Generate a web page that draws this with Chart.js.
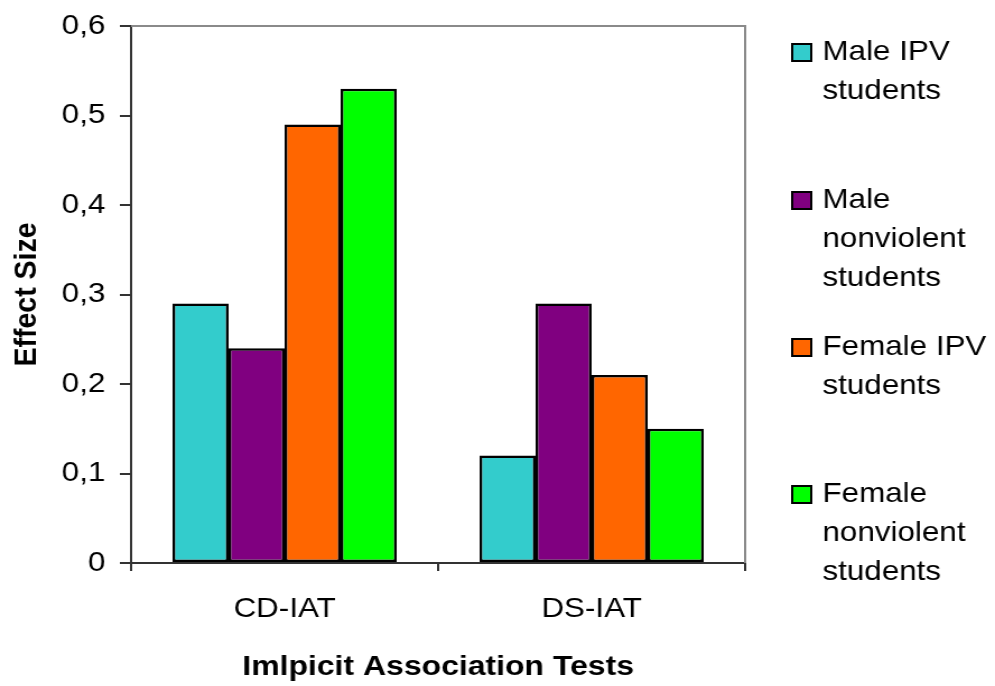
<!DOCTYPE html>
<html>
<head>
<meta charset="utf-8">
<title>Effect Size by Implicit Association Test</title>
<script src="https://cdn.jsdelivr.net/npm/chart.js@4.4.1/dist/chart.umd.min.js"></script>
<style>
  html, body { margin: 0; padding: 0; background: #ffffff; }
  #chart { display: block; width: 995px; height: 686px; }
</style>
</head>
<body>
<canvas id="chart" width="888" height="686" style="width:995px;height:686px"></canvas>
<script>
// Test categories on the x axis
const categories = ['CD-IAT', 'DS-IAT'];

// Effect sizes per group
const maleIPV = [0.29, 0.12];
const maleNonviolent = [0.24, 0.29];
const femaleIPV = [0.49, 0.21];
const femaleNonviolent = [0.53, 0.15];

// Group names and their wrapped legend lines
const seriesNames = ['Male IPV students', 'Male nonviolent students', 'Female IPV students', 'Female nonviolent students'];
const legendLines = [
  ['Male IPV', 'students'],
  ['Male', 'nonviolent', 'students'],
  ['Female IPV', 'students'],
  ['Female', 'nonviolent', 'students']
];
const seriesColors = ['#33CCCC', '#800080', '#FF6600', '#00FF00'];

// Y axis range and step
const yMin = 0;
const yMax = 0.6;
const yStep = 0.1;

const FONT = '"Liberation Sans", Arial, sans-serif';

// Grey frame on the top and right of the plot area
const frameLines = {
  id: 'frameLines',
  afterDatasetsDraw(chart) {
    const { ctx, chartArea: a } = chart;
    ctx.save();
    ctx.strokeStyle = '#8a8a8a';
    ctx.lineWidth = 2;
    ctx.beginPath();
    ctx.moveTo(a.left, a.top);
    ctx.lineTo(a.right, a.top);
    ctx.lineTo(a.right, a.bottom);
    ctx.stroke();
    ctx.restore();
  }
};

// Legend at the right with wrapped labels
const sideLegend = {
  id: 'sideLegend',
  afterDraw(chart) {
    const { ctx } = chart;
    const boxX = 707, box = 17, textX = 734;
    const firstBaselines = [60, 208, 355, 502];
    const lineStep = 39;
    ctx.save();
    ctx.font = '28px ' + FONT;
    ctx.textBaseline = 'alphabetic';
    ctx.textAlign = 'left';
    chart.data.datasets.forEach((ds, i) => {
      const base = firstBaselines[i];
      ctx.fillStyle = ds.backgroundColor;
      ctx.fillRect(boxX, base - 16, box, box);
      ctx.strokeStyle = '#000000';
      ctx.lineWidth = 2;
      ctx.strokeRect(boxX, base - 16, box, box);
      ctx.fillStyle = '#000000';
      legendLines[i].forEach((line, j) => {
        ctx.fillText(line, textX, base + j * lineStep);
      });
    });
    ctx.restore();
  }
};

const datasetValues = [maleIPV, maleNonviolent, femaleIPV, femaleNonviolent];

new Chart(document.getElementById('chart'), {
  type: 'bar',
  data: {
    labels: categories,
    datasets: datasetValues.map((vals, i) => ({
      label: seriesNames[i],
      data: vals,
      backgroundColor: seriesColors[i],
      borderColor: '#000000',
      borderWidth: 2.5,
      borderSkipped: false,
      barPercentage: 1,
      categoryPercentage: 0.73
    }))
  },
  options: {
    responsive: false,
    animation: false,
    devicePixelRatio: 1,
    layout: { padding: { left: 0, right: 223, top: 26, bottom: 0 } },
    plugins: {
      legend: { display: false },
      tooltip: { enabled: false }
    },
    scales: {
      x: {
        afterFit(scale) { scale.height = 123; scale.paddingLeft = 0; scale.paddingRight = 0; },
        grid: { display: true, drawOnChartArea: false, drawTicks: true, tickLength: 8, color: '#333333', lineWidth: 2, offset: true },
        border: { display: true, color: '#333333', width: 2 },
        ticks: { color: '#000000', padding: 21, font: { family: FONT, size: 28 } },
        title: {
          display: true,
          text: 'Imlpicit Association Tests',
          color: '#000000',
          padding: { top: 0, bottom: 2 },
          font: { family: FONT, size: 28.5, weight: 'bold' }
        }
      },
      y: {
        min: yMin,
        max: yMax,
        afterFit(scale) { scale.width = 117; scale.paddingTop = 0; scale.paddingBottom = 0; },
        grid: { display: true, drawOnChartArea: false, drawTicks: true, tickLength: 10, color: '#333333', lineWidth: 2 },
        border: { display: true, color: '#333333', width: 2 },
        ticks: {
          stepSize: yStep,
          color: '#000000',
          padding: 13,
          font: { family: FONT, size: 28 },
          callback: (v) => (v === 0 ? '0' : v.toFixed(1).replace('.', ','))
        },
        title: {
          display: true,
          text: 'Effect Size',
          color: '#000000',
          padding: { top: 7, bottom: 0 },
          font: { family: FONT, size: 28.5, weight: 'bold' }
        }
      }
    }
  },
  plugins: [frameLines, sideLegend]
});
</script>
</body>
</html>
